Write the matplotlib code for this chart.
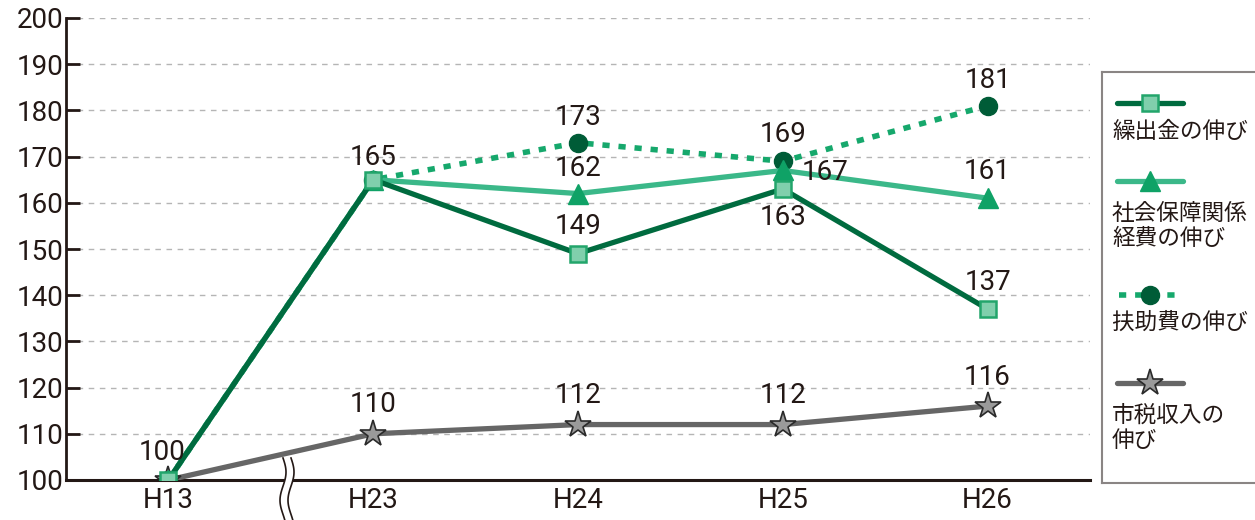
import matplotlib
matplotlib.use("Agg")
import matplotlib.pyplot as plt
from matplotlib import font_manager
import numpy as np

# ---- data ----
years = ["H13", "H23", "H24", "H25", "H26"]
kuridashi = [100, 165, 149, 163, 137]
shakai = [100, 165, 162, 167, 161]
fujo = [100, 165, 173, 169, 181]
shizei = [100, 110, 112, 112, 116]
yticks = [100, 110, 120, 130, 140, 150, 160, 170, 180, 190, 200]
legend_labels = ["繰出金の伸び", "社会保障関係\n経費の伸び", "扶助費の伸び", "市税収入の\n伸び"]

names = {f.name for f in font_manager.fontManager.ttflist}
num_font = "Liberation Sans Narrow" if "Liberation Sans Narrow" in names else "Roboto"
jp_font = ["Noto Sans CJK JP", "DejaVu Sans"]
NUM_SIZE = 20

W, H = 1255, 520
fig = plt.figure(figsize=(W / 100, H / 100), dpi=100)

def fx(px):
    return np.asarray(px) / W

def fy(py):
    return 1 - np.asarray(py) / H

ax = fig.add_axes([fx(66), fy(480), fx(1090) - fx(66), fy(18) - fy(480)])
x = np.arange(len(years))

DARK = "#006B3F"
SQ_FACE = "#80CFAC"
SQ_EDGE = "#22A56B"
SOC_LINE = "#3BB889"
TRI = "#0FA266"
DOT_LINE = "#16A86C"
CIRC = "#005C37"
GRAY = "#666666"
STAR_FACE = "#9A9A9A"

ax.plot(x, fujo, color=DOT_LINE, lw=4.0, linestyle=(0, (1.3, 1.6)), zorder=3)
ax.plot(x, fujo, linestyle="none", marker="o", ms=13, mfc=CIRC, mec=CIRC, zorder=4)
ax.plot(x, shizei, color=GRAY, lw=3.8, zorder=3)
ax.plot(x, shizei, linestyle="none", marker="*", ms=20, mfc=STAR_FACE, mec="#2a2a2a", mew=1.2, zorder=4)
ax.plot(x, shakai, color=SOC_LINE, lw=3.8, zorder=5)
ax.plot(x, shakai, linestyle="none", marker="^", ms=14, mfc=TRI, mec=TRI, zorder=6)
ax.plot(x, kuridashi, color=DARK, lw=3.8, zorder=7)
ax.plot(x, kuridashi, linestyle="none", marker="s", ms=12, mfc=SQ_FACE, mec=SQ_EDGE, mew=1.8, zorder=8)

ax.set_xlim(-0.5, 4.5)
ax.set_ylim(100, 200)
ax.set_yticks(yticks)
ax.set_xticks(x)
ax.set_xticklabels(years)
for s in ["top", "right"]:
    ax.spines[s].set_visible(False)
ax.spines["left"].set_color("#231815")
ax.spines["bottom"].set_color("#231815")
ax.spines["left"].set_linewidth(2)
ax.spines["bottom"].set_linewidth(2.2)
ax.tick_params(axis="y", direction="in", length=10, width=2, color="#231815", pad=2,
               labelsize=NUM_SIZE, labelcolor="#231815")
ax.tick_params(axis="x", length=0, pad=5, labelsize=NUM_SIZE, labelcolor="#231815")
for lab in ax.get_xticklabels() + ax.get_yticklabels():
    lab.set_fontfamily(num_font)
ax.grid(axis="y", color="#b5b5b5", linestyle=(0, (4, 4)), lw=1)
ax.set_axisbelow(True)

# value labels: (value, x index, dx px, dy px)
def lab(val, xi, dx, dy):
    ax.annotate(str(val), (xi, val), xytext=(dx * 0.72, dy * 0.72), textcoords="offset points",
                ha="center", va="center", fontsize=NUM_SIZE, color="#231815", family=num_font, zorder=10)

lab(kuridashi[0], 0, -6, 28)
lab(kuridashi[1], 1, 0, 22)
lab(fujo[2], 2, 0, 25)
lab(shakai[2], 2, 0, 25)
lab(kuridashi[2], 2, 0, 27)
lab(fujo[3], 3, 0, 27)
lab(shakai[3], 3, 42, -2)
lab(kuridashi[3], 3, 0, -29)
lab(fujo[4], 4, 0, 25)
lab(shakai[4], 4, 0, 27)
lab(kuridashi[4], 4, 0, 27)
for i in range(1, 5):
    lab(shizei[i], i, 0, 29)

# axis break marks
yy = np.linspace(458, 520, 60)
wave = 3 * np.sin((yy - 458) / 62 * 2.2 * np.pi)
m = yy >= 463
fig.patches.append(plt.Polygon(
    np.column_stack([np.r_[fx(283 + wave[m]), fx(291 + wave[m])[::-1]],
                     np.r_[fy(yy[m]), fy(yy[m])[::-1]]]),
    closed=True, transform=fig.transFigure, facecolor="white", edgecolor="none", zorder=20))
for x0 in (283, 291):
    fig.add_artist(plt.Line2D(fx(x0 + wave), fy(yy), color="#231815", lw=1.2, zorder=21))

# legend box
lax = fig.add_axes([fx(1102), fy(483), fx(1265) - fx(1102), fy(72) - fy(483)])
lax.set_xlim(1102, 1265)
lax.set_ylim(483, 72)
lax.set_xticks([])
lax.set_yticks([])
for s in lax.spines.values():
    s.set_color("#8a8584")
    s.set_linewidth(1.5)

def sample(y, color, ls, marker, ms, mfc, mec, mew=1.0):
    lax.plot([1117, 1183], [y, y], color=color, lw=3.8, linestyle=ls, solid_capstyle="round")
    lax.plot([1150], [y], linestyle="none", marker=marker, ms=ms, mfc=mfc, mec=mec, mew=mew)

sample(103, DARK, "-", "s", 12, SQ_FACE, SQ_EDGE, 1.8)
sample(181, SOC_LINE, "-", "^", 14, TRI, TRI)
lax.plot([1119, 1183], [295, 295], color=DOT_LINE, lw=4.0, linestyle=(0, (1.3, 1.6)))
lax.plot([1150], [295], linestyle="none", marker="o", ms=13, mfc=CIRC, mec=CIRC)
sample(383, GRAY, "-", "*", 20, STAR_FACE, "#2a2a2a", 1.2)

texts_y = [131, 226, 322, 428]
for ty, t in zip(texts_y, legend_labels):
    lax.text(1112, ty, t, family=jp_font, fontsize=16.3, color="#231815", va="center", ha="left",
             linespacing=1.15)

fig.savefig("out.png", dpi=100, facecolor="white")
